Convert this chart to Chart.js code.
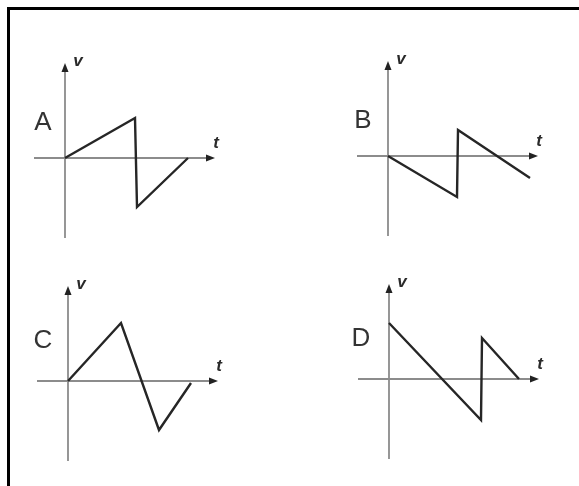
<!DOCTYPE html>
<html>
<head>
<meta charset="utf-8">
<script src="https://cdn.jsdelivr.net/npm/chart.js@4"></script>
<style>
  html, body { margin: 0; padding: 0; background: #fff; }
  body { width: 579px; height: 486px; position: relative; overflow: hidden; }
  #frame { position: absolute; left: 7px; top: 7px; right: -10px; bottom: -10px;
           border-left: 3px solid #000; border-top: 3px solid #000; }
  canvas { position: absolute; }
</style>
</head>
<body>
<div id="frame"></div>
<canvas id="cA"></canvas>
<canvas id="cB"></canvas>
<canvas id="cC"></canvas>
<canvas id="cD"></canvas>
<script>
// axis range shared by all four sketches (arbitrary units)
const tMin = -31, tMax = 150;
const vMin = -80, vMax = 95;

// v(t) corner points
const tA = [0, 70, 72, 123];
const vA = [0, 40, -49, 0];

const tB = [0, 69, 70, 142];
const vB = [0, -41, 26, -22];

const tC = [0, 53, 91, 123];
const vC = [0, 58, -49, -2];

const tD = [0, 92, 93, 130];
const vD = [56, -41, 41, 0];

const letters = ['A', 'B', 'C', 'D'];

// where each panel's origin sits on the page, and the letter offset
const panels = [
    { id: 'cA', t: tA, v: vA, origin: [65, 158], letterOff: [-22, -36] },
    { id: 'cB', t: tB, v: vB, origin: [388, 156], letterOff: [-25, -36] },
    { id: 'cC', t: tC, v: vC, origin: [68, 381], letterOff: [-25, -41] },
    { id: 'cD', t: tD, v: vD, origin: [389, 379], letterOff: [-28, -41] }
];

const PAD = 40;

// draws the gray t and v axes with arrow heads, and the labels
const axesPlugin = {
    id: 'sketchAxes',
    beforeDatasetsDraw(chart, args, opts) {
        const ctx = chart.ctx;
        const xs = chart.scales.x, ys = chart.scales.y;
        const x0 = xs.getPixelForValue(0), y0 = ys.getPixelForValue(0);
        const xl = xs.getPixelForValue(tMin), xr = xs.getPixelForValue(tMax);
        const yb = ys.getPixelForValue(vMin), yt = ys.getPixelForValue(vMax);

        ctx.save();
        ctx.strokeStyle = '#8c8c8c';
        ctx.lineWidth = 1.8;
        ctx.beginPath();
        ctx.moveTo(xl, y0); ctx.lineTo(xr - 6, y0);
        ctx.moveTo(x0, yb); ctx.lineTo(x0, yt + 6);
        ctx.stroke();

        ctx.fillStyle = '#222';
        ctx.beginPath();
        ctx.moveTo(xr, y0); ctx.lineTo(xr - 9, y0 - 3.5); ctx.lineTo(xr - 9, y0 + 3.5);
        ctx.closePath(); ctx.fill();
        ctx.beginPath();
        ctx.moveTo(x0, yt); ctx.lineTo(x0 - 3.5, yt + 9); ctx.lineTo(x0 + 3.5, yt + 9);
        ctx.closePath(); ctx.fill();

        ctx.fillStyle = '#2a2a2a';
        ctx.textAlign = 'center';
        ctx.textBaseline = 'middle';
        ctx.font = 'italic bold 17px "Liberation Sans", Arial, sans-serif';
        ctx.fillText('v', xs.getPixelForValue(13), ys.getPixelForValue(97));
        ctx.fillText('t', xs.getPixelForValue(151), ys.getPixelForValue(15));

        ctx.font = '26px "Liberation Sans", Arial, sans-serif';
        ctx.fillStyle = '#333';
        ctx.fillText(opts.letter, x0 + opts.off[0], y0 + opts.off[1] + 1);
        ctx.restore();
    }
};

panels.forEach((p, i) => {
    const canvas = document.getElementById(p.id);
    const w = (tMax - tMin) + 2 * PAD;
    const h = (vMax - vMin) + 2 * PAD;
    canvas.width = w;
    canvas.height = h;
    canvas.style.width = w + 'px';
    canvas.style.height = h + 'px';
    canvas.style.left = (p.origin[0] + tMin - PAD) + 'px';
    canvas.style.top = (p.origin[1] - vMax - PAD) + 'px';

    new Chart(canvas, {
        type: 'scatter',
        data: {
            datasets: [{
                data: p.t.map((t, k) => ({ x: t, y: p.v[k] })),
                showLine: true,
                borderColor: '#262626',
                borderWidth: 2.4,
                pointRadius: 0,
                tension: 0,
                clip: false
            }]
        },
        options: {
            responsive: false,
            animation: false,
            layout: { padding: PAD },
            scales: {
                x: { type: 'linear', min: tMin, max: tMax, display: false },
                y: { type: 'linear', min: vMin, max: vMax, display: false }
            },
            plugins: {
                legend: { display: false },
                tooltip: { enabled: false },
                sketchAxes: { letter: letters[i], off: p.letterOff }
            }
        },
        plugins: [axesPlugin]
    });
});
</script>
</body>
</html>
